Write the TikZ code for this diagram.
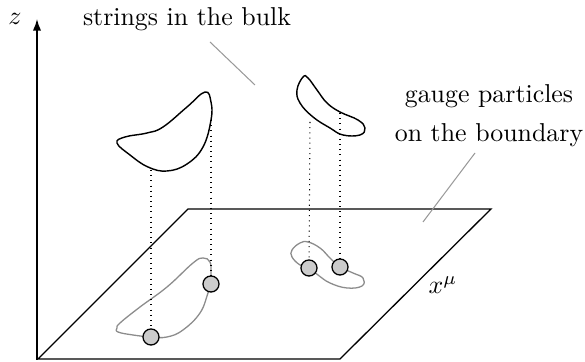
\documentclass[tikz,border=0pt]{standalone}
\usetikzlibrary{arrows.meta}
\begin{document}
\begin{tikzpicture}[x=0.3867pt,y=-0.3867pt,
  bulk/.style={black,line width=0.55pt},
  bdry/.style={black!45,line width=0.5pt},
  proj/.style={line width=0.4pt,dash pattern=on 0.4pt off 1.6pt},
  pointer/.style={black!40,line width=0.4pt},
  particle/.style={circle,draw=black,fill=black!20,line width=0.5pt,minimum size=6.2pt,inner sep=0pt},
  lbl/.style={inner sep=0pt}]
\useasboundingbox (0,0) rectangle (585,362);
% axis
\coordinate (zb) at (37,360);
\coordinate (zt) at (37,19);
\draw[line width=0.55pt,-{Latex[length=4.5pt,width=3.2pt]}] (zb) -- (zt);
\node[lbl] (zl) at (15,19) {$z$};
% plane
\coordinate (p1) at (38,359);
\coordinate (p2) at (340,359);
\coordinate (p3) at (491,209);
\coordinate (p4) at (188,209);
\draw[line width=0.5pt] (p1) -- (p2) -- (p3) -- (p4) -- cycle;
\node[lbl] (xm) at (443,285) {$x^\mu$};
% bulk strings
\draw[bulk] plot[smooth cycle,tension=0.7] coordinates {(117,143) (125,137) (147,133) (163,127) (187,107) (205,92) (211,102) (211,120) (203,147) (187,164) (167,171) (148,167) (130,155)};
\draw[bulk] plot[smooth cycle,tension=0.7] coordinates {(303,77) (297,90) (300,103) (313,117) (330,128) (343,135) (360,135) (365,128) (358,120) (340,112) (327,103) (317,90) (308,78)};
% boundary loops
\draw[bdry] plot[smooth cycle,tension=0.7] coordinates {(117,328) (120,323) (140,307) (167,287) (193,263) (203,258) (210,262) (211,273) (211,284) (208,293) (200,313) (183,330) (167,337) (151,337) (133,335) (118,332)};
\draw[bdry] plot[smooth cycle,tension=0.7] coordinates {(292,250) (300,243) (308,242) (320,248) (330,258) (340,267) (353,273) (363,278) (362,286) (347,288) (330,283) (318,275) (309,268) (300,265) (292,257)};
% particles
\node[particle] (b1) at (151,337) {};
\node[particle] (b2) at (211,284) {};
\node[particle] (b3) at (309,268) {};
\node[particle] (b4) at (340,267) {};
% projection lines
\coordinate (s1) at (151,170);
\coordinate (s2) at (211,120);
\coordinate (s3) at (310,122);
\coordinate (s4) at (340,113);
\draw[proj] (s1) -- (b1);
\draw[proj] (s2) -- (b2);
\draw[proj] (s3) -- (b3);
\draw[proj] (s4) -- (b4);
% labels
\node[lbl] (tb) at (187,19) {strings in the bulk};
\node[lbl,align=center] (tg) at (489,116) {gauge particles\\[3pt]on the boundary};
\coordinate (a1) at (210,42);
\coordinate (a2) at (255,85);
\coordinate (g1) at (475,153);
\coordinate (g2) at (423,222);
\draw[pointer] (a1) -- (a2);
\draw[pointer] (g1) -- (g2);
\end{tikzpicture}
\end{document}
